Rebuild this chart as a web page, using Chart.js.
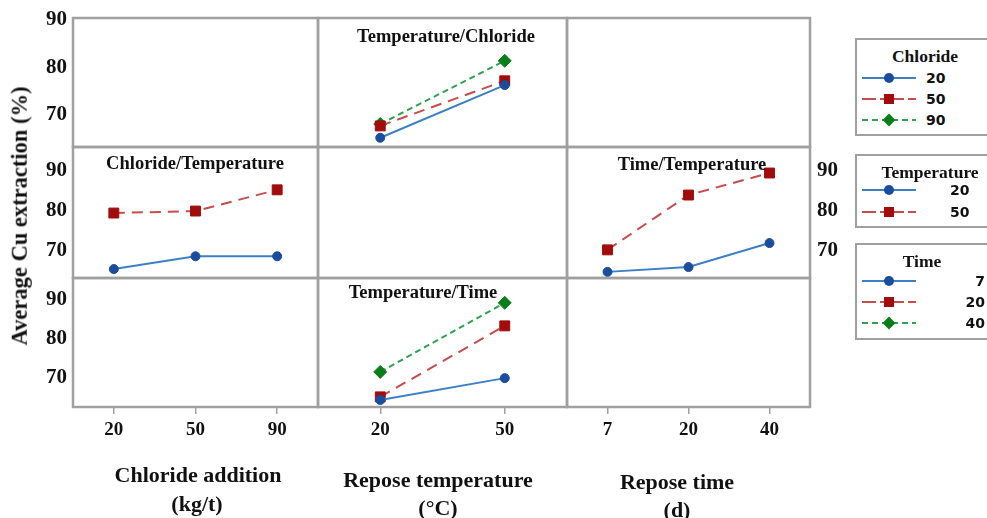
<!DOCTYPE html>
<html><head><meta charset="utf-8">
<script src="https://cdn.jsdelivr.net/npm/chart.js@4.4.0/dist/chart.umd.min.js"></script>
<style>
html,body{margin:0;padding:0;background:#fff;overflow:hidden;}
#wrap{position:relative;width:987px;height:518px;overflow:hidden;background:#fff;}
#wrap canvas{position:absolute;}
.t{position:absolute;white-space:nowrap;color:#111;font-family:'Liberation Serif','Times New Roman',serif;transform:translate(-50%,-50%);line-height:1;}
.pt{font-weight:bold;font-size:18.5px;}
.ax{font-size:22px;font-weight:bold;}
.yt{font-weight:bold;font-size:22.5px;transform:translate(-50%,-50%) rotate(-90deg);}
.leg{position:absolute;border:2px solid #a0a0a0;background:#fff;box-sizing:border-box;}
.lt{font-weight:bold;font-size:17.5px;}
.lv{position:absolute;white-space:nowrap;color:#111;font-family:'DejaVu Sans',sans-serif;font-weight:bold;font-size:14px;line-height:1;transform:translateY(-50%);}
.sw{position:absolute;}
</style></head>
<body>
<div id="wrap"></div>
<script>
// ---- data ----
const chlorideLevels = ['20', '50', '90'];
const temperatureLevels = ['20', '50'];
const timeLevels = ['7', '20', '40'];
const yTickValues = [70, 80, 90];

// Temperature/Chloride (x = temperature, one line per chloride level)
const tempChloride20 = [65.2, 76.3];
const tempChloride50 = [67.7, 77.2];
const tempChloride90 = [68.1, 81.4];

// Chloride/Temperature (x = chloride, one line per temperature level)
const chlorideTemp20 = [65.4, 68.6, 68.6];
const chlorideTemp50 = [79.4, 79.9, 85.2];

// Time/Temperature (x = time, one line per temperature level)
const timeTemp20 = [64.7, 65.9, 71.9];
const timeTemp50 = [70.2, 83.9, 89.4];

// Temperature/Time (x = temperature, one line per time level)
const tempTime7 = [64.2, 69.8];
const tempTime20 = [65.0, 83.2];
const tempTime40 = [71.4, 89.1];

// ---- styles ----
const SERIF = "'Liberation Serif','Times New Roman',serif";
const S = [
  {line:'#3b80c6', mark:'#1b4d9e', style:'circle', r:4.5, dash:[]},
  {line:'#c94b4b', mark:'#a20c0c', style:'rect', r:7, dash:[11,7]},
  {line:'#2ea24f', mark:'#0b7d1b', style:'rectRot', r:6.5, dash:[6,4]}
];
function ds(label, data, i){
  const s = S[i];
  return {label, data, borderColor:s.line, borderWidth:2, borderDash:s.dash,
    pointStyle:s.style, pointRadius:s.r, pointBackgroundColor:s.mark, pointBorderColor:s.mark,
    pointBorderWidth:1, tension:0, fill:false, clip:false};
}
const boxPlugin = {id:'box', beforeDatasetsDraw(chart){
  const {ctx, chartArea:a} = chart;
  ctx.save(); ctx.strokeStyle = '#a0a0a0'; ctx.lineWidth = 2.5;
  ctx.strokeRect(a.left, a.top, a.right - a.left, a.bottom - a.top);
  ctx.restore();
}};
function noPad(s){ s.paddingTop = 0; s.paddingBottom = 0; s.paddingLeft = 0; s.paddingRight = 0; }
const wrap = document.getElementById('wrap');
const COLS = [[73,318],[318,567],[567,810]];
const ROWS = [[18,147],[147,278],[278,407]];
const YR = [[63.26,90.42],[63.17,95.9],[62.4,95.47]];

function panel(r, c, labels, datasets, yAxis, xAxis){
  const P = [COLS[c][0], ROWS[r][0], COLS[c][1], ROWS[r][1]];
  const left = yAxis === 'left', right = yAxis === 'right';
  const padL = left ? P[0] : 4, padR = right ? 42 : 4, padT = 16, padB = xAxis ? 48 : 16;
  const w = (P[2]-P[0]) + padL + padR, h = (P[3]-P[1]) + padT + padB;
  const cv = document.createElement('canvas');
  cv.width = w; cv.height = h;
  cv.style.left = (P[0]-padL)+'px'; cv.style.top = (P[1]-padT)+'px';
  cv.style.width = w+'px'; cv.style.height = h+'px';
  wrap.appendChild(cv);
  new Chart(cv, {
    type:'line',
    data:{labels, datasets},
    options:{
      responsive:false, animation:false, devicePixelRatio:1,
      layout:{autoPadding:false, padding:{left:left?0:padL, right:right?0:padR, top:padT, bottom:xAxis?0:padB}},
      plugins:{legend:{display:false}, tooltip:{enabled:false}, title:{display:false}},
      scales:{
        x:{type:'category', offset:true, display:!!xAxis,
          grid:{display:true, drawOnChartArea:false, drawTicks:true, tickLength:7, color:'#a0a0a0', lineWidth:1.5},
          border:{display:false},
          ticks:{color:'#111', font:{family:SERIF, size:19, weight:'bold'}, padding:5, maxRotation:0, autoSkip:false},
          afterFit(s){ s.height = xAxis ? padB : 0; noPad(s); }},
        y:{type:'linear', position:right?'right':'left', display:!!yAxis,
          min:YR[r][0], max:YR[r][1],
          grid:{display:false, drawTicks:false}, border:{display:false},
          ticks:{color:'#111', font:{family:SERIF, size:21, weight:'bold'}, padding:right?7:6},
          afterBuildTicks(s){ s.ticks = yTickValues.map(v => ({value:v})); },
          afterFit(s){ s.width = left ? P[0] : (right ? padR : 0); noPad(s); }}
      }
    },
    plugins:[boxPlugin]
  });
}

// row 0
panel(0,0, chlorideLevels, [], 'left', false);
panel(0,1, temperatureLevels, [
  ds('Chloride 20', tempChloride20, 0),
  ds('Chloride 50', tempChloride50, 1),
  ds('Chloride 90', tempChloride90, 2)], null, false);
panel(0,2, timeLevels, [], null, false);
// row 1
panel(1,0, chlorideLevels, [
  ds('Temperature 20', chlorideTemp20, 0),
  ds('Temperature 50', chlorideTemp50, 1)], 'left', false);
panel(1,1, temperatureLevels, [], null, false);
panel(1,2, timeLevels, [
  ds('Temperature 20', timeTemp20, 0),
  ds('Temperature 50', timeTemp50, 1)], 'right', false);
// row 2
panel(2,0, chlorideLevels, [], 'left', true);
panel(2,1, temperatureLevels, [
  ds('Time 7', tempTime7, 0),
  ds('Time 20', tempTime20, 1),
  ds('Time 40', tempTime40, 2)], null, true);
panel(2,2, timeLevels, [], null, true);

// ---- text ----
function txt(cls, s, x, y){
  const d = document.createElement('div');
  d.className = 't ' + cls; d.textContent = s;
  d.style.left = x+'px'; d.style.top = y+'px';
  wrap.appendChild(d); return d;
}
txt('pt', 'Temperature/Chloride', 446, 36);
txt('pt', 'Chloride/Temperature', 195, 163);
txt('pt', 'Time/Temperature', 692, 164);
txt('pt', 'Temperature/Time', 423, 292);
txt('yt', 'Average Cu extraction (%)', 20, 216);
txt('ax', 'Chloride addition', 198, 475);
txt('ax', '(kg/t)', 197, 504);
txt('ax', 'Repose temperature', 438, 480);
txt('ax', '(°C)', 438, 508);
txt('ax', 'Repose time', 677, 482);
txt('ax', '(d)', 677, 510);

// ---- legends ----
function swatch(i, y){
  const s = S[i];
  const ns = 'http://www.w3.org/2000/svg';
  const svg = document.createElementNS(ns, 'svg');
  svg.setAttribute('width', 58); svg.setAttribute('height', 16);
  svg.setAttribute('class', 'sw');
  svg.style.left = '860px'; svg.style.top = (y-8)+'px';
  const ln = document.createElementNS(ns, 'line');
  ln.setAttribute('x1', 2); ln.setAttribute('x2', 56); ln.setAttribute('y1', 8); ln.setAttribute('y2', 8);
  ln.setAttribute('stroke', s.line); ln.setAttribute('stroke-width', 2);
  if (i === 1) ln.setAttribute('stroke-dasharray', '14 4 24 4');
  if (i === 2) ln.setAttribute('stroke-dasharray', '6 4');
  svg.appendChild(ln);
  let m;
  if (i === 0){ m = document.createElementNS(ns,'circle'); m.setAttribute('cx',29); m.setAttribute('cy',8); m.setAttribute('r',5); }
  else if (i === 1){ m = document.createElementNS(ns,'rect'); m.setAttribute('x',24); m.setAttribute('y',3); m.setAttribute('width',10); m.setAttribute('height',10); }
  else { m = document.createElementNS(ns,'polygon'); m.setAttribute('points','29,1.5 35.5,8 29,14.5 22.5,8'); }
  m.setAttribute('fill', s.mark);
  svg.appendChild(m);
  wrap.appendChild(svg);
}
function legend(title, levels, top, height, titleX, ys, labelX, alignRight){
  const b = document.createElement('div');
  b.className = 'leg';
  b.style.left = '855px'; b.style.top = top+'px'; b.style.width = '150px'; b.style.height = height+'px';
  wrap.appendChild(b);
  txt('lt', title, titleX, top + 19);
  levels.forEach((lv, i) => {
    swatch(i, ys[i]);
    const d = document.createElement('div');
    d.className = 'lv'; d.textContent = lv;
    d.style.top = ys[i]+'px';
    if (alignRight){ d.style.right = (987 - labelX)+'px'; }
    else { d.style.left = labelX+'px'; }
    wrap.appendChild(d);
  });
}
legend('Chloride', chlorideLevels, 38, 98, 925, [78, 99, 120], 926, false);
legend('Temperature', temperatureLevels, 154, 74, 930, [190, 212], 950, false);
legend('Time', timeLevels, 243, 97, 922, [281, 302, 323], 985, true);
</script>
</body></html>
